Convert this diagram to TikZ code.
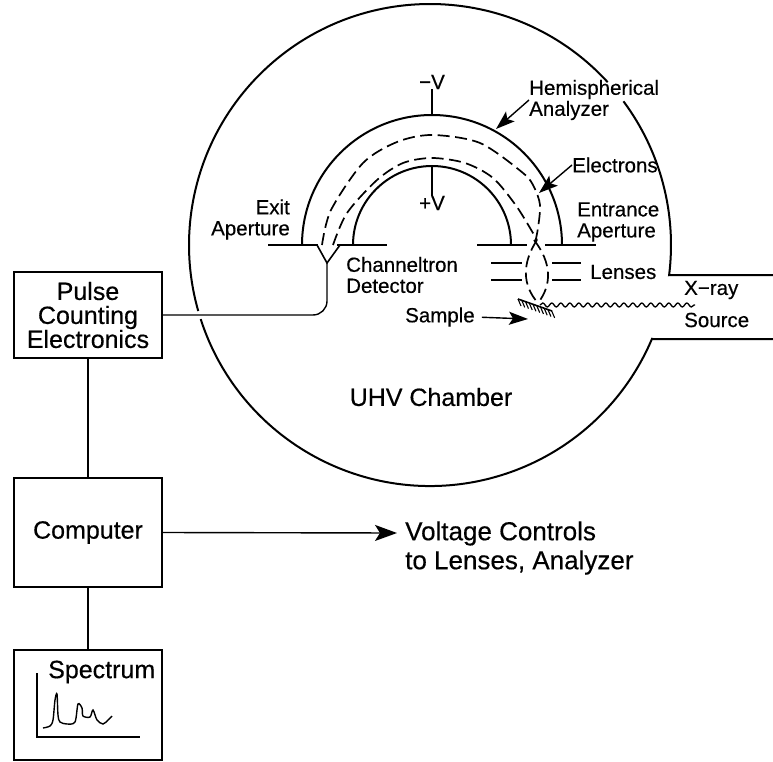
\documentclass[tikz,border=0pt]{standalone}
\usepackage{fontspec}
\setmainfont[FakeBold=0.4]{Liberation Sans}
\usetikzlibrary{arrows.meta,calc,decorations.pathmorphing}
\tikzset{
    blockbox/.style={draw,line width=2.4pt,minimum width=148pt,inner sep=0pt,align=center,
        font=\fontsize{25}{24}\selectfont},
    lbl/.style={inner sep=0pt,align=left,font=\fontsize{20.5}{21}\selectfont},
    wire/.style={line width=1.6pt},
    wall/.style={line width=2pt},
    ebeam/.style={line width=1.7pt,dash pattern=on 12pt off 5.5pt},
    bigarrow/.style={line width=1.4pt,-{Stealth[length=22pt,width=16pt,inset=5pt]}},
    smallarrow/.style={line width=1.4pt,-{Stealth[length=19pt,width=13pt,inset=4pt]}},
}
\begin{document}
\begin{tikzpicture}[x=1pt,y=-1pt]
    \useasboundingbox (0,0) rectangle (773,762);
    % Chamber wall, broken at the label and at the signal wire
    \draw[wall] (430,245) ++(-36.6:241) arc[start angle=-36.6,end angle=7.2,radius=241] -- (672,275) -- (773,275);
    \draw[wall] (430,245) ++(-42.5:241) arc[start angle=-42.5,end angle=-195.9,radius=241];
    \draw[wall] (430,245) ++(-197.9:241) arc[start angle=-197.9,end angle=-337.1,radius=241] -- (653,339) -- (773,339);
    % Hemispheres
    \draw[wall] (302,245) arc[start angle=180,end angle=360,radius=130];
    \draw[wall] (353,245) arc[start angle=180,end angle=360,radius=79];
    % Slit plates
    \draw[wall] (268,245) -- (318,245);
    \draw[wall] (337,245) -- (387,245);
    \draw[wall] (477,245) -- (527,245);
    \draw[wall] (545,245) -- (596,245);
    % Voltage stems
    \node[lbl] (minusv) at (432,82) {−V};
    \node[lbl] (plusv) at (432,203) {+V};
    \coordinate (outertop) at (432,115);
    \coordinate (innertop) at (432,166);
    \draw[wire] (minusv.south) -- (outertop);
    \draw[wire] (innertop) -- (plusv.north);
    % Electron paths
    \draw[ebeam] plot[smooth] coordinates {(322,245) (331,210) (363,163) (397,142) (432,135) (480,143) (523,173) (534,187) (540,205) (538,228) (535,243)};
    \draw[ebeam] plot[smooth] coordinates {(333,245) (347,213) (377,180) (403,163) (432,158) (465,163) (493,178) (517,207) (537,240)};
    \draw[ebeam] (537,240) .. controls (522,263) and (522,285) .. (538,303);
    \draw[ebeam] (534,240) .. controls (552,263) and (552,285) .. (538,303);
    % Lenses
    \foreach \ly in {263,280} {
        \draw[wire] (491,\ly) -- (522,\ly);
        \draw[wire] (552,\ly) -- (581,\ly);
    }
    % Sample surface
    \draw[wire] (518,299) -- (552,311);
    \foreach \t in {0,0.11,...,1.01} {
        \draw[line width=1.1pt] ($(518,299)!\t!(552,311)$) -- ++(3,7);
    }
    % X-rays
    \draw[line width=1.3pt,decorate,decoration={snake,segment length=9pt,amplitude=2pt}] (540,305) -- (695,305);
    % Detector funnel
    \coordinate (funnel) at (327,263);
    \draw[wire] (317,245) -- (funnel) -- (340,245);
    % Blocks
    \node[blockbox,minimum height=86pt] (pulse) at (88,315) {Pulse\\Counting\\Electronics};
    \node[blockbox,minimum height=109pt] (computer) at (88,532.5) {Computer};
    \node[blockbox,minimum height=110pt] (spectrumbox) at (88,705) {};
    \draw[line width=1.4pt,rounded corners=14pt] (pulse.east) -- (327,315) -- (funnel);
    \draw[wire] (pulse.south) -- (computer.north);
    \draw[wire] (computer.south) -- (spectrumbox.north);
    % Spectrum
    \draw[line width=1.3pt] (37,673) -- (37,737) -- (140,737);
    \draw[line width=1.4pt] plot[smooth,tension=0.5] coordinates {(43,728) (50,726) (53,720) (55,700) (57,694) (58,715) (60,722) (67,724) (75,722) (78,704) (82,708) (83,716) (90,717) (93,710) (97,720) (103,724) (108,720) (112,716)};
    \node[lbl,anchor=west,font=\fontsize{25}{25}\selectfont] (spectrum) at (48,672) {Spectrum};
    % Labels
    \node[lbl,anchor=west] (hemi) at (529,100) {Hemispherical\\Analyzer};
    \node[lbl,anchor=west] (electrons) at (572,165) {Electrons};
    \node[lbl,anchor=east,align=right] (exitap) at (290,219.5) {Exit\\Aperture};
    \node[lbl,anchor=west] (entrance) at (577,222) {Entrance\\Aperture};
    \node[lbl,anchor=west] (channel) at (346,275) {Channeltron\\Detector};
    \node[lbl,anchor=west] (lenses) at (590,272) {Lenses};
    \node[lbl,anchor=west] (samp) at (405,317) {Sample};
    \node[lbl,anchor=west] (xray) at (684,290) {X−ray};
    \node[lbl,anchor=west] (source) at (684,320) {Source};
    \node[lbl,anchor=center,font=\fontsize{25}{25}\selectfont] (uhv) at (431,397) {UHV Chamber};
    \node[lbl,anchor=west,font=\fontsize{26}{29}\selectfont] (volt) at (405,548) {Voltage Controls\\to Lenses, Analyzer};
    % Arrows
    \coordinate (hemitip) at (496,129);
    \coordinate (electip) at (539,193);
    \coordinate (samptip) at (528,319);
    \coordinate (volttip) at (397,533);
    \draw[smallarrow] (hemi.west) -- (hemitip);
    \draw[smallarrow] (electrons.west) -- (electip);
    \draw[smallarrow,shorten <=7pt] (samp.east) -- (samptip);
    \draw[bigarrow] (computer.east) -- (volttip);
\end{tikzpicture}
\end{document}
